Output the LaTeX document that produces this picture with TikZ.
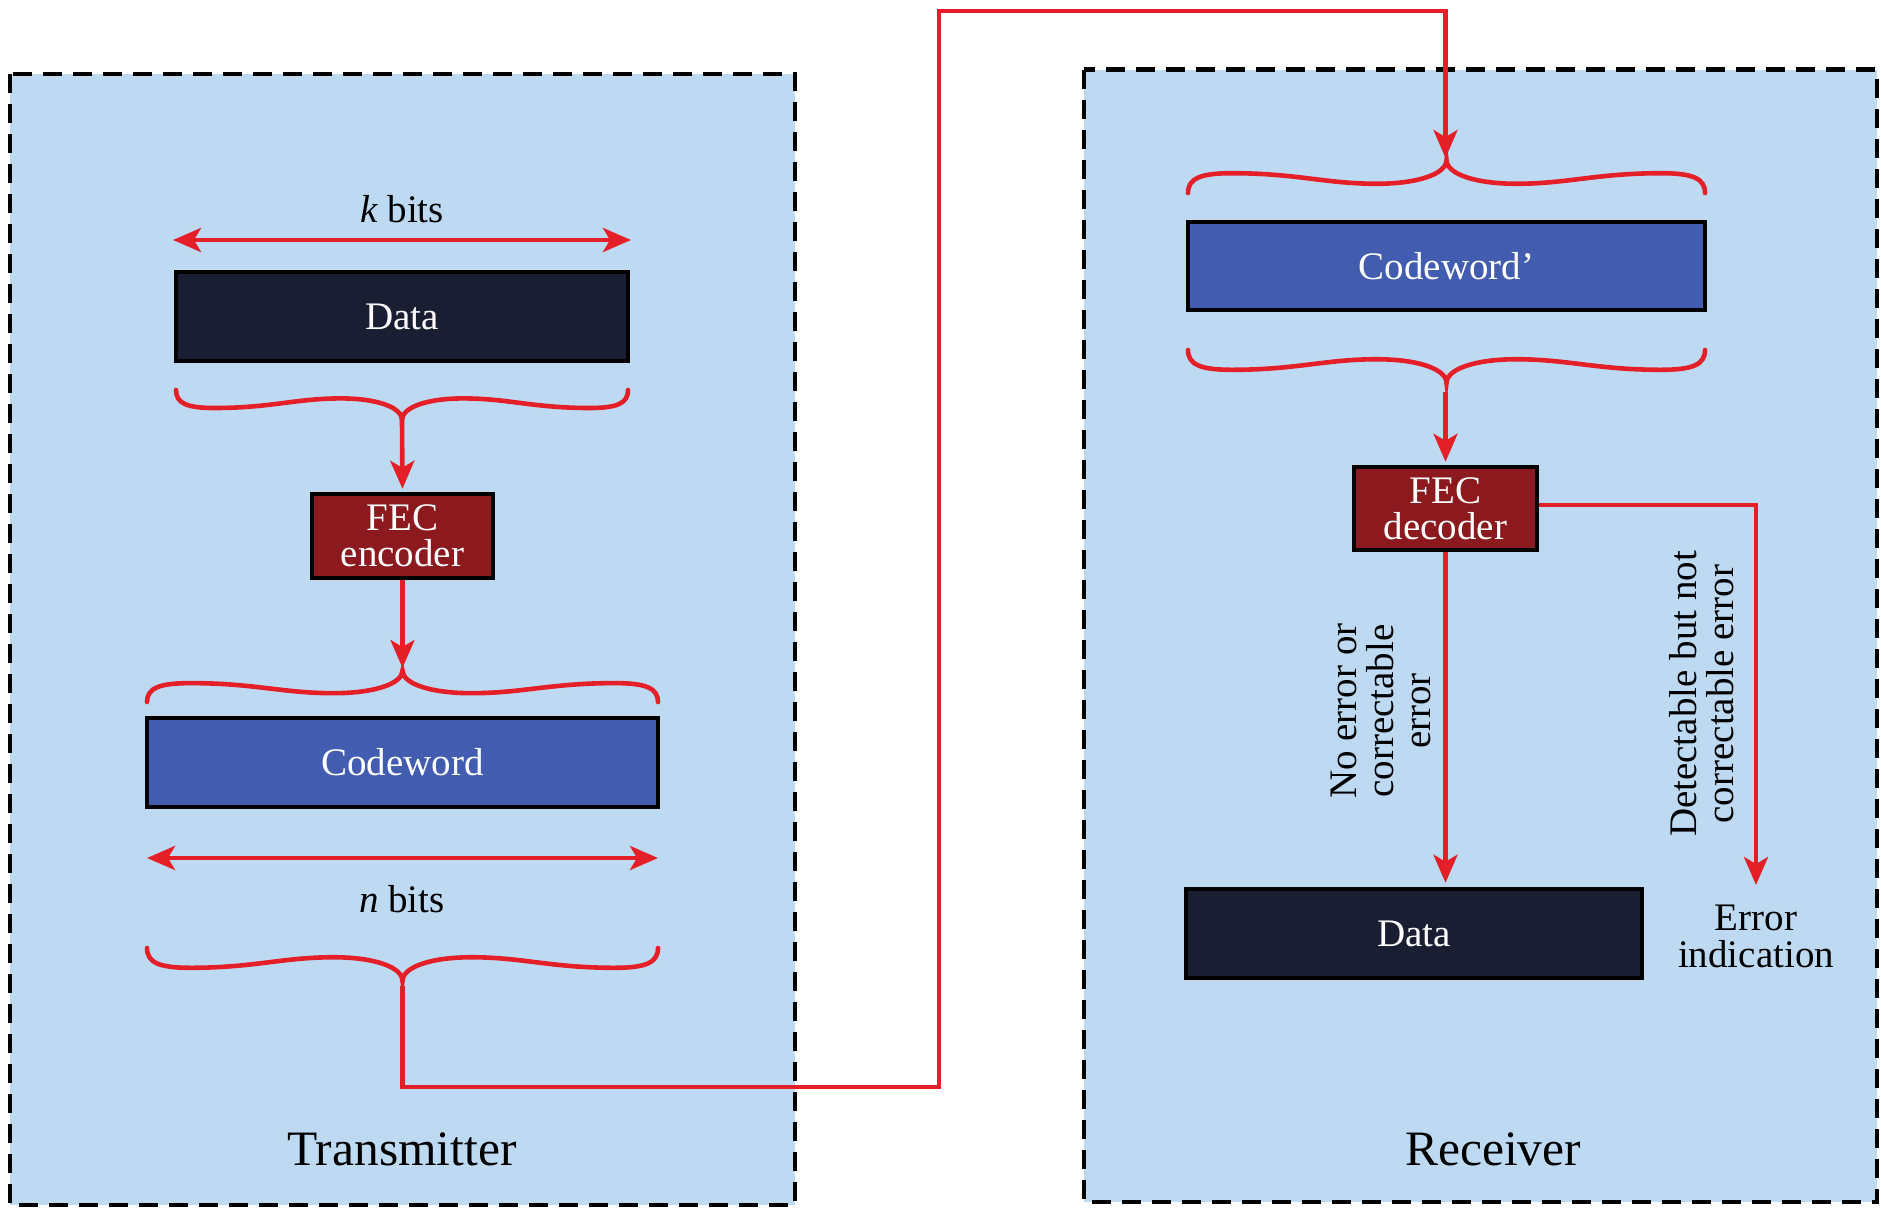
\documentclass[tikz,border=0pt]{standalone}
\usepackage{fontspec}
\setmainfont{Liberation Serif}
\usetikzlibrary{arrows.meta}
\definecolor{panelblue}{RGB}{189,218,242}
\definecolor{navy}{RGB}{26,30,51}
\definecolor{fecred}{RGB}{139,25,30}
\definecolor{cwblue}{RGB}{66,92,176}
\definecolor{linered}{RGB}{228,31,39}
\newcommand\RedBrace[4]{%
  \pgfmathsetmacro\brH{(#2-#1)/2}%
  \pgfmathsetmacro\brA{#4}%
  \draw[bracepath] (#1,#3)
    .. controls +(0,0.45*\brA) and +(-0.12*\brH,0) .. ++(0.17*\brH,0.6*\brA)
    .. controls +(0.25*\brH,0) and +(-0.2*\brH,0) .. ++(0.56*\brH,-0.32*\brA)
    .. controls +(0.16*\brH,0) and +(0,-0.42*\brA) .. ++(0.27*\brH,0.72*\brA)
    .. controls +(0,-0.42*\brA) and +(-0.16*\brH,0) .. ++(0.27*\brH,-0.72*\brA)
    .. controls +(0.2*\brH,0) and +(-0.25*\brH,0) .. ++(0.56*\brH,0.32*\brA)
    .. controls +(0.12*\brH,0) and +(0,0.45*\brA) .. ++(0.17*\brH,-0.6*\brA);
}
\tikzset{
  panel/.style={draw=black, fill=panelblue, line width=4.6pt, dash pattern=on 19pt off 11pt},
  blk/.style={draw=black, line width=4.5pt, inner sep=0pt, text=white, align=center,
    font=\fontsize{39}{36}\selectfont},
  datablk/.style={blk, fill=navy},
  fecblk/.style={blk, fill=fecred},
  cwblk/.style={blk, fill=cwblue},
  lbl/.style={inner sep=0pt, align=center, font=\fontsize{39}{37}\selectfont},
  title/.style={inner sep=0pt, font=\fontsize{49.5}{50}\selectfont},
  bracepath/.style={draw=linered, line width=4.6pt, line cap=round},
  conn/.style={draw=linered, line width=4.6pt},
  arr/.style={conn, -{Stealth[length=28pt, width=24pt, inset=7pt]}},
  dblarr/.style={conn, {Stealth[length=28pt, width=24pt, inset=7pt]}-{Stealth[length=28pt, width=24pt, inset=7pt]}},
}
\begin{document}
\begin{tikzpicture}[x=1pt, y=-1pt]
\useasboundingbox (0,0) rectangle (1881,1210);
% panels
\draw[panel] (10,74) rectangle (795,1205);
\draw[panel] (1084,69.5) rectangle (1877,1202);

% transmitter
\coordinate (kL) at (173,240);
\coordinate (kR) at (631,240);
\draw[dblarr] (kL) -- (kR);
\node[lbl, anchor=base] (kbits) at (402,222) {\textit{k} bits};
\node[datablk, minimum width=452pt, minimum height=89pt] (txdata) at (402,316.5) {Data};
\RedBrace{176}{628}{390}{30}
\coordinate (dtip) at (402,420);
\node[fecblk, minimum width=181pt, minimum height=84pt] (fecenc) at (402.5,536) {FEC\\encoder};
\draw[arr, shorten >=3pt] (dtip) -- (fecenc.north);
\RedBrace{147}{658}{702}{-31.5}
\coordinate (cwtip) at (402.5,668);
\draw[arr] (fecenc.south) -- (cwtip);
\node[cwblk, minimum width=511pt, minimum height=89pt] (txcode) at (402.5,762.5) {Codeword};
\coordinate (nL) at (147,858);
\coordinate (nR) at (658,858);
\draw[dblarr] (nL) -- (nR);
\node[lbl, anchor=base] (nbits) at (402,912) {\textit{n} bits};
\RedBrace{147}{658}{948}{33}
\node[title, anchor=base] (txtitle) at (402,1165) {Transmitter};

% channel
\coordinate (txout) at (402.5,986);
\coordinate (turnA) at (939,1087);
\coordinate (turnB) at (939,11);
\coordinate (rxin) at (1445.5,158);
\draw[arr] (txout) |- (turnA) -- (turnB) -| (rxin);

% receiver
\RedBrace{1188}{1705}{193}{-33}
\node[cwblk, minimum width=517pt, minimum height=88pt] (rxcode) at (1446.5,266) {Codeword’};
\RedBrace{1188}{1705}{350}{33}
\coordinate (rxbr) at (1445.5,392);
\node[fecblk, minimum width=183pt, minimum height=83pt] (fecdec) at (1445.5,508.5) {FEC\\decoder};
\draw[arr, shorten >=3pt] (rxbr) -- (fecdec.north);
\node[datablk, minimum width=456pt, minimum height=89pt] (rxdata) at (1414,933.5) {Data};
\draw[arr, shorten >=4pt] (fecdec.south) -- (fecdec.south |- rxdata.north);
\coordinate (errtip) at (1756,885);
\draw[arr] ([yshift=3.5pt]fecdec.east) -| (errtip);
\node[lbl] (errind) at (1756,936.6) {Error\\indication};
\node[lbl, rotate=90] (noerr) at (1381,711) {No error or\\correctable\\error};
\node[lbl, rotate=90] (deterr) at (1702,694) {Detectable but not\\correctable error};
\node[title, anchor=base] (rxtitle) at (1493,1165) {Receiver};
\end{tikzpicture}
\end{document}
